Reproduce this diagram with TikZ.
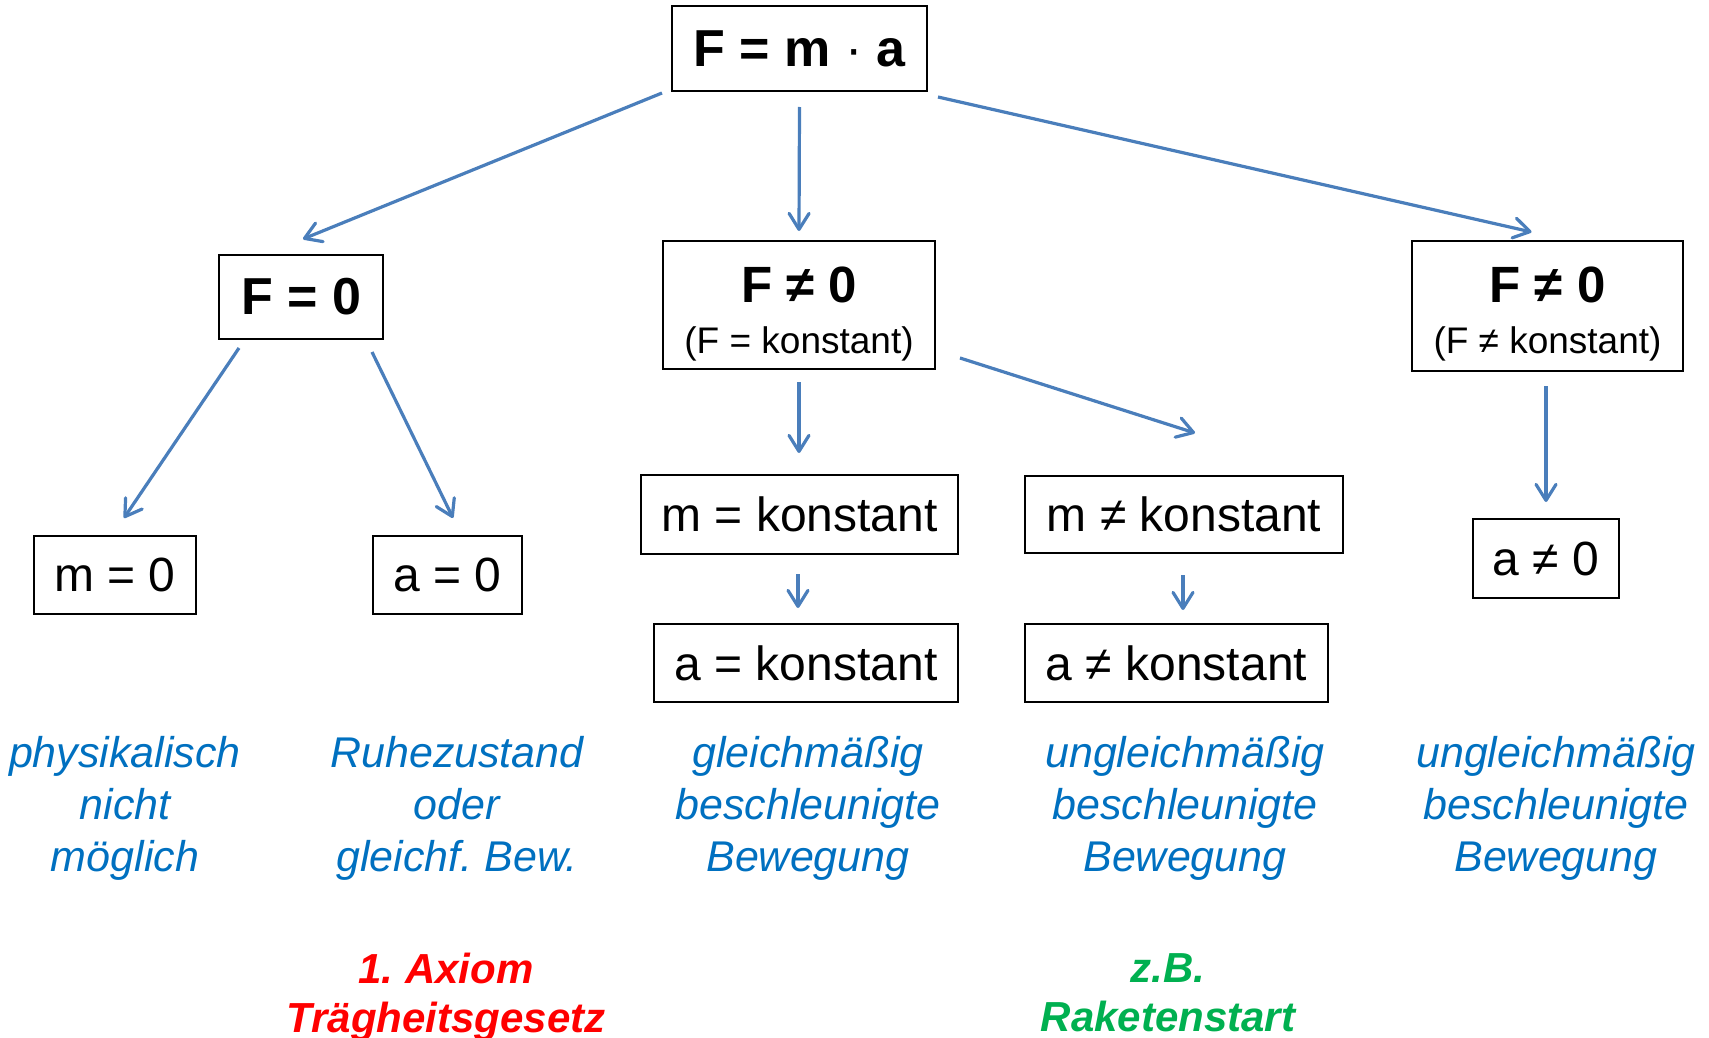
\documentclass[tikz,border=0pt]{standalone}
\usepackage{fontspec}
\setmainfont{Liberation Sans}
\usetikzlibrary{arrows.meta,calc}
\definecolor{arrowblue}{RGB}{74,126,187}
\definecolor{textblue}{RGB}{0,112,192}
\definecolor{axiomred}{RGB}{255,0,0}
\definecolor{rocketgreen}{RGB}{0,176,80}
\newcommand\setfs[2]{\fontsize{#1}{#2}\selectfont}
\frenchspacing
\begin{document}
\begin{tikzpicture}[x=1pt,y=-1pt,
  box/.style={draw=black, line width=2pt, inner sep=0pt, anchor=center},
  bigbold/.style={font=\setfs{52}{60}\bfseries},
  plain/.style={font=\setfs{48}{56}},
  conn/.style={draw=arrowblue, line width=3.2pt,
    -{Straight Barb[length=16pt,width=20pt,round]}},
  note/.style={align=center, text=textblue, font=\setfs{43}{52}\itshape},
  remark/.style={align=center, font=\setfs{42}{49}\bfseries\itshape}]
\useasboundingbox (0,0) rectangle (1709,1038);

% boxes
\node[box, bigbold, minimum width=255pt, minimum height=85pt] (top) at (799.5,48.5) {F = m {\mdseries·} a};
\node[box, bigbold, minimum width=164pt, minimum height=84pt] (fzero) at (301,297) {F = 0};
\node[box, minimum width=272pt, minimum height=128pt] (fmid) at (799,305) {};
\node[anchor=base, font=\setfs{51}{55}\bfseries] (fmidA) at ($(fmid.center)+(0,-3)$) {F ≠ 0};
\node[anchor=base, font=\setfs{37}{40}] (fmidB) at ($(fmid.center)+(0,48)$) {(F = konstant)};
\node[box, minimum width=271pt, minimum height=130pt] (fright) at (1547.5,306) {};
\node[anchor=base, font=\setfs{51}{55}\bfseries] (frightA) at ($(fright.center)+(0,-4)$) {F ≠ 0};
\node[anchor=base, font=\setfs{37}{40}] (frightB) at ($(fright.center)+(0,47)$) {(F ≠ konstant)};

\node[box, plain, minimum width=162pt, minimum height=78pt] (mzero) at (115,575) {m = 0};
\node[box, plain, minimum width=149pt, minimum height=78pt] (azero) at (447.5,575) {a = 0};
\node[box, plain, minimum width=317pt, minimum height=79pt] (mk) at (799.5,514.5) {m = konstant};
\node[box, plain, minimum width=304pt, minimum height=78pt] (ak) at (806,663) {a = konstant};
\node[box, plain, minimum width=318pt, minimum height=77pt] (mnk) at (1184,514.5) {m ≠ konstant};
\node[box, plain, minimum width=303pt, minimum height=78pt] (ank) at (1176.5,663) {a ≠ konstant};
\node[box, plain, minimum width=146pt, minimum height=79pt] (anz) at (1546,558.5) {a ≠ 0};

% connectors
\draw[conn] ($(top.south west)+(-9,1)$) -- ($(fzero.north)+(2,-15)$);
\draw[conn] ($(top.south)+(0,15)$) -- ($(fmid.north)+(0,-9)$);
\draw[conn] ($(top.south east)+(10,5)$) -- ($(fright.north)+(-16,-8)$);
\draw[conn] ($(fzero.south west)+(21,8)$) -- ($(mzero.north)+(9,-17)$);
\draw[conn] ($(fzero.south east)+(-12,12)$) -- ($(azero.north)+(5.5,-17)$);
\draw[conn] ($(fmid.south)+(0,12)$) -- ($(mk.north)+(-0.5,-21)$);
\draw[conn] ($(fmid.south east)+(24,-12)$) -- ($(mnk.north)+(11,-42)$);
\draw[conn] ($(mk.south)+(-1.5,19)$) -- ($(ak.north)+(-8,-15)$);
\draw[conn] ($(mnk.south)+(-1,21)$) -- ($(ank.north)+(6.5,-13)$);
\draw[conn] ($(fright.south)+(-1.5,14)$) -- ($(anz.north)+(0,-16)$);

% descriptions
\node[note] (d1) at (125,808) {physikalisch\\nicht\\möglich};
\node[note] (d2) at (457,808) {Ruhezustand\\oder\\gleichf. Bew.};
\node[note] (d3) at (808,808) {gleichmäßig\\beschleunigte\\Bewegung};
\node[note] (d4) at (1185,808) {ungleichmäßig\\beschleunigte\\Bewegung};
\node[note] (d5) at (1556,808) {ungleichmäßig\\beschleunigte\\Bewegung};

\node[remark, text=axiomred] (axiom) at (446,997) {1. Axiom\\Trägheitsgesetz};
\node[remark, text=rocketgreen] (rocket) at (1168,992.5) {z.B.\\Raketenstart};
\end{tikzpicture}
\end{document}
